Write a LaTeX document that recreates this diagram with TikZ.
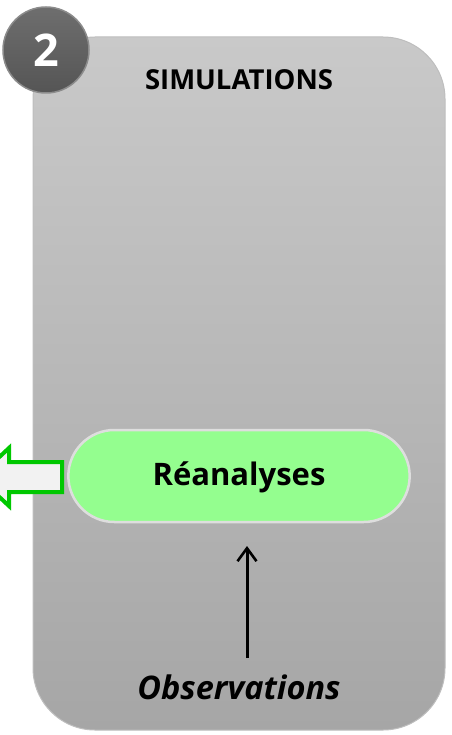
\documentclass[tikz,border=0pt]{standalone}
\usepackage{fontspec}
\setmainfont{Open Sans}
\usetikzlibrary{arrows.meta,shapes.misc}
\definecolor{panelTop}{HTML}{C9C9C9}
\definecolor{panelBot}{HTML}{A6A6A6}
\definecolor{panelEdge}{HTML}{BEBEBE}
\definecolor{badgeFill}{HTML}{555555}
\definecolor{badgeLight}{HTML}{6E6E6E}
\definecolor{badgeEdge}{HTML}{8C8C8C}
\definecolor{reaFill}{HTML}{94FE8F}
\definecolor{reaEdge}{HTML}{DEDEDE}
\definecolor{outGreen}{HTML}{00C800}
\definecolor{outFill}{HTML}{F2F2F2}
\tikzset{
  panel/.style={top color=panelTop, bottom color=panelBot, draw=panelEdge, line width=1pt, rounded corners=62pt},
  badge/.style={circle, minimum size=86pt, inner sep=0pt, draw=badgeEdge, line width=1.5pt,
    top color=badgeLight, bottom color=badgeFill, text=white, font=\bfseries\fontsize{45}{45}\selectfont},
  stadium/.style={rounded rectangle, minimum width=348pt, minimum height=92pt, draw=reaEdge, line width=2.5pt, fill=reaFill},
  title/.style={font=\bfseries\fontsize{27.5}{27.5}\selectfont},
  label/.style={font=\bfseries\fontsize{31}{31}\selectfont},
  obs/.style={font=\bfseries\itshape\fontsize{32.5}{32.5}\selectfont},
  feed/.style={draw=black, line width=3pt, -{Straight Barb[length=13pt, width=19pt, line width=2.6pt]}},
  outarrow/.style={draw=outGreen, line width=4pt, fill=outFill, miter limit=10}
}
\begin{document}
\begin{tikzpicture}[x=1pt, y=-1pt]
  \useasboundingbox (0,0) rectangle (451,735);
  \clip (0,0) rectangle (451,735);
  % main panel
  \path[panel] (33,37) rectangle (445,730);
  % outgoing hollow arrow on the left
  \path[outarrow] (62,462) -- (9,462) -- (9,448) -- (-22,477) -- (9,506) -- (9,492) -- (62,492) -- cycle;
  % badge
  \node[badge] (badge) at (46,50) {2};
  % title
  \node[title] (title) at (239,80) {SIMULATIONS};
  % reanalyses node
  \node[stadium] (rea) at (239,476) {};
  \node[label] (reaText) at (239,477) {Réanalyses};
  % observations and link
  \node[obs] (obs) at (239,687) {Observations};
  \coordinate (obsTop) at (247,658);
  \coordinate (reaBot) at (247,546);
  \draw[feed] (obsTop) -- (reaBot);
\end{tikzpicture}
\end{document}
